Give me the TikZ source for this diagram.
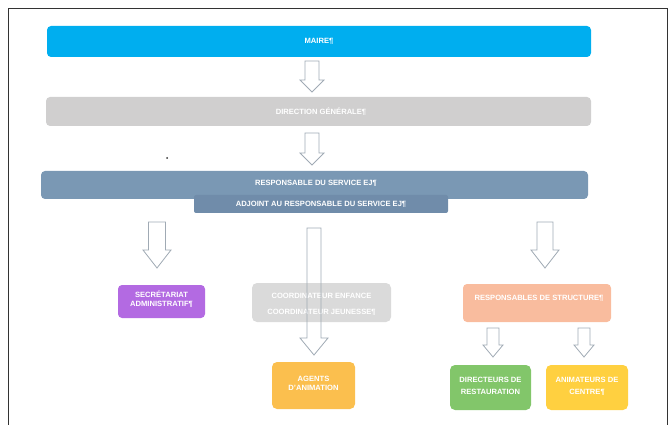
\documentclass[tikz,border=0pt]{standalone}
\usepackage{fontspec}
\setmainfont{Liberation Sans}
\begin{document}
\begin{tikzpicture}[x=1pt,y=-1pt,
  box/.style={draw=none,text=white,font=\fontsize{7.6}{9}\selectfont\bfseries,align=center,inner sep=0pt},
  barrow/.style={draw=arrowgray,line width=0.8pt,line join=miter}]
\definecolor{cblue}{RGB}{0,174,239}
\definecolor{cgray}{RGB}{208,207,207}
\definecolor{csteel}{RGB}{122,152,180}
\definecolor{csteeld}{RGB}{112,140,170}
\definecolor{cpurple}{RGB}{179,106,226}
\definecolor{clgray}{RGB}{218,218,218}
\definecolor{cpeach}{RGB}{249,188,158}
\definecolor{corange}{RGB}{251,191,78}
\definecolor{cgreen}{RGB}{130,198,106}
\definecolor{cyellow}{RGB}{255,208,64}
\definecolor{arrowgray}{RGB}{160,170,180}
\newcommand\blockarrowdown[6]{%
  \draw[barrow] (#1-#4,#2) -- (#1+#4,#2) -- (#1+#4,#3-#6) -- (#1+#5,#3-#6) -- (#1,#3) -- (#1-#5,#3-#6) -- (#1-#4,#3-#6) -- cycle;}
\useasboundingbox (0,0) rectangle (670,425);
% frame
\draw[line width=0.8pt,color=black!80] (8,425) -- (8,8) -- (667,8) -- (667,425);
% bars
\fill[cblue,rounded corners=4pt] (47,26) rectangle (591,57);
\node[box] (maire) at (319,41.5) {MAIRE¶};
\fill[cgray,rounded corners=4pt] (46,97) rectangle (591,126);
\node[box] (dg) at (321,111.5) {DIRECTION GÉNÉRALE¶};
\fill[csteel,rounded corners=4pt] (41,171) rectangle (588,199);
\node[box] (resp) at (316,183) {RESPONSABLE DU SERVICE EJ¶};
\fill[csteeld,rounded corners=2pt] (194,195) rectangle (448,213);
\node[box] (adj) at (321,204) {ADJOINT AU RESPONSABLE DU SERVICE EJ¶};
% second level
\fill[cpurple,rounded corners=4pt] (118,285) rectangle (205,318);
\node[box] (secr) at (161.5,299) {SECRÉTARIAT\\ADMINISTRATIF¶};
\fill[clgray,rounded corners=5pt] (252,283) rectangle (391,322);
\node[box] (coord) at (321.5,304) {COORDINATEUR ENFANCE\\[7pt]COORDINATEUR JEUNESSE¶};
\fill[cpeach,rounded corners=4pt] (463,284) rectangle (611,322);
\node[box] (rstruct) at (539,298) {RESPONSABLES DE STRUCTURE¶};
% third level
\fill[corange,rounded corners=5pt] (272,362) rectangle (355,409);
\node[box] (agents) at (313.5,383) {AGENTS\\D'ANIMATION};
\fill[cgreen,rounded corners=5pt] (450,365) rectangle (531,410);
\node[box] (dir) at (490.5,386) {DIRECTEURS DE\\[3pt]RESTAURATION};
\fill[cyellow,rounded corners=5pt] (546,365) rectangle (628,410);
\node[box] (anim) at (587,386) {ANIMATEURS DE\\[3pt]CENTRE¶};
% arrows
\blockarrowdown{312}{61}{92}{7}{12}{12}
\blockarrowdown{312}{133}{165}{7}{12}{12}
\blockarrowdown{157}{222}{268}{8.5}{14}{18}
\blockarrowdown{314}{228}{355}{7}{14}{17}
\blockarrowdown{545}{222}{268}{8}{14}{18}
\blockarrowdown{493}{328}{357}{6}{10}{12}
\blockarrowdown{584}{328}{357}{6}{10}{12}
% stray dot
\fill[black!80] (167,158) circle (1pt);
\end{tikzpicture}
\end{document}
